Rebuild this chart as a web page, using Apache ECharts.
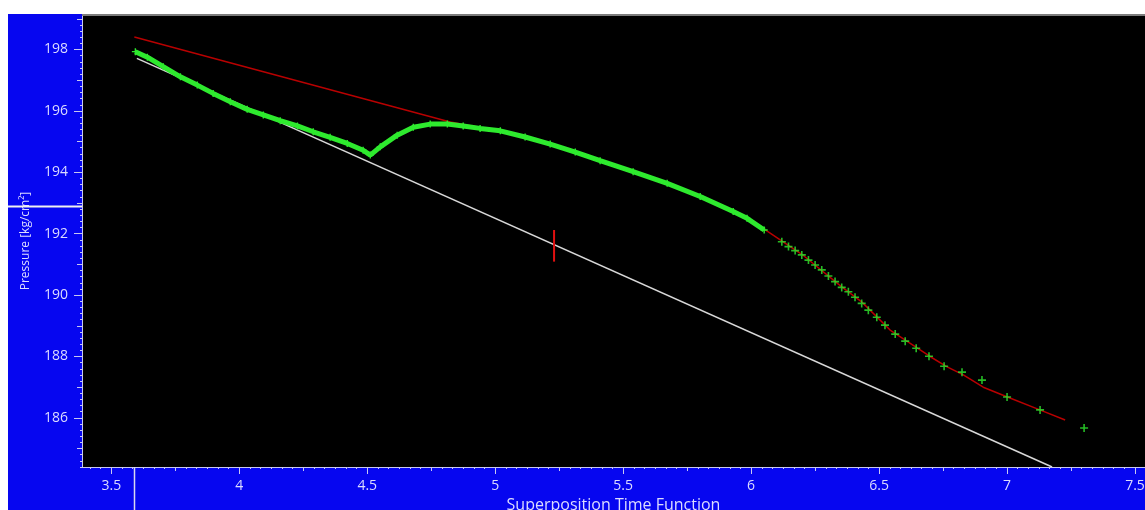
<!DOCTYPE html>
<html><head><meta charset="utf-8">
<script src="https://cdn.jsdelivr.net/npm/echarts@6/dist/echarts.min.js"></script>
<style>
html,body{margin:0;padding:0;background:#fff;width:1145px;height:510px;overflow:hidden}
#c{position:absolute;left:8px;top:14px;width:1137px;height:496px;}
</style></head>
<body><div id="c"></div>
<script>
// ---- axis ranges & tick labels ----
const xMin = 3.3855, xMax = 7.539;
const yMin = 184.40, yMax = 199.124;
const xTickLabels = [3.5, 4, 4.5, 5, 5.5, 6, 6.5, 7, 7.5];
const xMidTicks = [3.75, 4.25, 4.75, 5.25, 5.75, 6.25, 6.75, 7.25];
const yTickLabels = [186, 188, 190, 192, 194, 196, 198];
const yMidTicks = [185, 187, 189, 191, 193, 195, 197, 199];
const xAxisName = 'Superposition Time Function';
const yAxisName = 'Pressure [kg/cm²]';

// ---- measured pressure (green crosses) ----
const measuredDenseX = [3.594,3.641,3.703,3.770,3.836,3.898,3.965,4.031,4.094,4.160,4.227,4.289,4.355,4.422,4.484,4.512,4.551,4.617,4.680,4.746,4.813,4.875,4.941,5.020,5.117,5.215,5.313,5.410,5.539,5.672,5.801,5.930,5.984,6.051];
const measuredDenseY = [197.93,197.75,197.44,197.11,196.84,196.57,196.30,196.05,195.87,195.68,195.51,195.32,195.14,194.94,194.72,194.56,194.83,195.21,195.47,195.57,195.57,195.51,195.43,195.35,195.15,194.92,194.66,194.38,194.02,193.64,193.21,192.72,192.50,192.12];
const measuredSparseX = [6.120,6.146,6.172,6.198,6.224,6.250,6.276,6.302,6.328,6.354,6.380,6.406,6.432,6.458,6.491,6.523,6.563,6.602,6.645,6.695,6.754,6.824,6.902,7.000,7.129,7.301];
const measuredSparseY = [191.74,191.58,191.45,191.31,191.14,190.98,190.82,190.62,190.44,190.25,190.11,189.93,189.73,189.51,189.28,189.02,188.73,188.50,188.27,188.01,187.68,187.49,187.23,186.68,186.26,185.67];

// ---- model (red line) ----
const modelX = [3.590,4.824,4.941,5.215,5.410,5.672,5.930,6.051,6.198,6.354,6.432,6.543,6.699,6.764,6.829,6.907,6.999,7.128,7.227];
const modelY = [198.41,195.64,195.46,194.95,194.40,193.66,192.74,192.15,191.33,190.27,189.78,188.86,188.00,187.67,187.40,187.00,186.69,186.26,185.93];

// ---- semilog straight line (white) ----
const trendX = [3.600, 7.176];
const trendY = [197.71, 184.40];

// ---- red vertical marker ----
const markerX = [5.230, 5.230];
const markerY = [191.09, 192.12];

// ---- cursor position ----
const cursorX = 3.587, cursorY = 192.91;

const zip = (a, b) => a.map((v, i) => [v, b[i]]);
const minorX = []; for (let i = 0; i <= 120; i++) { const v = 3.25 + i / 24; if (v > xMin && v < xMax) minorX.push(+v.toFixed(5)); }
const minorY = []; for (let i = 0; i <= 80; i++) { const v = 184.4 + i * 0.2; if (v > yMin - 1e-6 && v < yMax) minorY.push(+v.toFixed(3)); }

const labelColor = '#dcdcff';
const lineColor = '#c8c8f0';
const fontFam = '"Open Sans", "DejaVu Sans", sans-serif';
const plus = 'path://M4,0L6,0L6,4L10,4L10,6L6,6L6,10L4,10L4,6L0,6L0,4L4,4Z';
const green = '#2eea2e';

function xAx(values, len, labels, extra) {
  return Object.assign({
    type: 'value', min: xMin, max: xMax, position: 'bottom', offset: 0,
    axisLine: { show: !!labels, lineStyle: { color: lineColor, width: 1 } },
    axisTick: { show: true, customValues: values, length: len, lineStyle: { color: lineColor, width: 1 } },
    axisLabel: labels ? { customValues: values, color: labelColor, fontSize: 14, fontFamily: fontFam, margin: 12 } : { show: false },
    splitLine: { show: false }
  }, extra || {});
}
function yAx(values, len, labels, extra) {
  return Object.assign({
    type: 'value', min: yMin, max: yMax, position: 'left', offset: 0,
    axisLine: { show: !!labels, lineStyle: { color: lineColor, width: 1 } },
    axisTick: { show: true, customValues: values, length: len, lineStyle: { color: lineColor, width: 1 } },
    axisLabel: labels ? { customValues: values, color: labelColor, fontSize: 14, fontFamily: fontFam, margin: 14 } : { show: false },
    splitLine: { show: false }
  }, extra || {});
}

const chart = echarts.init(document.getElementById('c'));
chart.setOption({
  animation: false,
  backgroundColor: '#0606f0',
  grid: { left: 74, right: 0, top: 1, bottom: 43, show: true, backgroundColor: '#000', borderWidth: 0,
          containLabel: false, outerBoundsMode: 'none' },
  xAxis: [
    xAx(xTickLabels, 7, true, { name: xAxisName, nameLocation: 'middle', nameGap: 28, nameTextStyle: { color: labelColor, fontSize: 16, fontFamily: fontFam } }),
    xAx(xMidTicks, 4, false),
    xAx(minorX, 2, false)
  ],
  yAxis: [
    yAx(yTickLabels, 8, true, { name: yAxisName, nameLocation: 'middle', nameGap: 50, nameTextStyle: { color: labelColor, fontSize: 12, fontFamily: fontFam } }),
    yAx(yMidTicks, 5, false),
    yAx(minorY, 2, false)
  ],
  series: [
    { name: 'trend', type: 'line', data: zip(trendX, trendY), showSymbol: false, lineStyle: { color: '#d8d8d8', width: 1.5 }, z: 2 },
    { name: 'model', type: 'line', data: zip(modelX, modelY), showSymbol: false, lineStyle: { color: '#b80000', width: 1.5 }, z: 3 },
    { name: 'measured', type: 'line', data: zip(measuredDenseX, measuredDenseY), symbol: plus, symbolSize: 7, showSymbol: true,
      itemStyle: { color: green }, lineStyle: { color: green, width: 5 }, z: 4 },
    { name: 'measured2', type: 'scatter', data: zip(measuredSparseX, measuredSparseY), symbol: plus, symbolSize: 8,
      itemStyle: { color: green }, z: 4 },
    { name: 'marker', type: 'line', data: zip(markerX, markerY), showSymbol: false, lineStyle: { color: '#e01010', width: 2 }, z: 5 }
  ]
});

const p = chart.convertToPixel({ xAxisIndex: 0, yAxisIndex: 0 }, [cursorX, cursorY]);
const gridBottom = 496 - 43;
chart.setOption({
  graphic: [
    { type: 'line', shape: { x1: 74, y1: 1, x2: 1137, y2: 1 }, style: { stroke: '#7c7c7c', lineWidth: 2 }, z: 100 },
    { type: 'line', shape: { x1: 0, y1: Math.round(p[1]) + 0.5, x2: 74, y2: Math.round(p[1]) + 0.5 }, style: { stroke: '#f0f0f0', lineWidth: 2 }, z: 100 },
    { type: 'line', shape: { x1: Math.round(p[0]) + 0.5, y1: gridBottom, x2: Math.round(p[0]) + 0.5, y2: 496 }, style: { stroke: '#d8d8f0', lineWidth: 1.5 }, z: 100 }
  ]
});
</script>
</body></html>
